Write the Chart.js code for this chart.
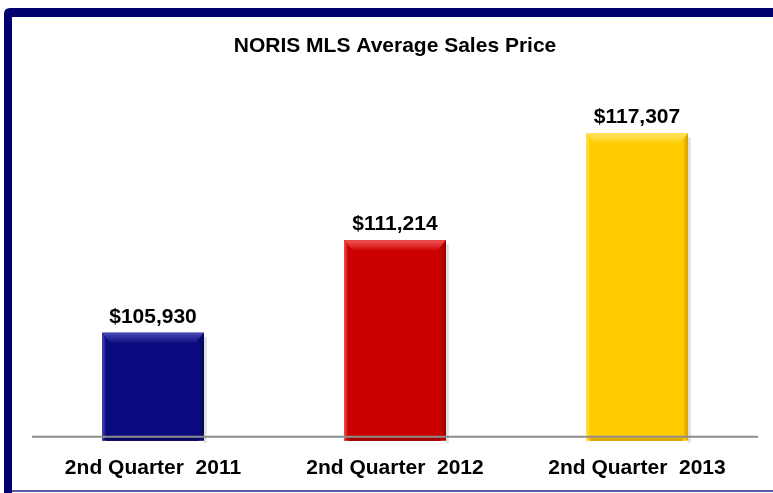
<!DOCTYPE html>
<html>
<head>
<meta charset="utf-8">
<script src="https://cdn.jsdelivr.net/npm/chart.js@4/dist/chart.umd.min.js"></script>
<style>
  html, body { margin: 0; padding: 0; background: #fff; }
  #wrap { width: 773px; height: 493px; position: relative; }
</style>
</head>
<body>
<div id="wrap"><canvas id="priceChart"></canvas></div>
<script>
// chart data
const quarters = ["2nd Quarter  2011", "2nd Quarter  2012", "2nd Quarter  2013"];
const avgPrices = [105930, 111214, 117307];
const barColors = ["#0a0a7e", "#cc0000", "#ffcc00"];
const barLights = ["#4a4ab4", "#f05858", "#ffe462"];
const barDarks = ["#05054e", "#8e0000", "#d49a00"];

const FONT = "'Liberation Sans', Arial, sans-serif";

function formatCurrency(v) {
    return "$" + v.toLocaleString("en-US");
}

// frame: navy border top + left, thin line at bottom
const framePlugin = {
    id: "frame",
    beforeDraw(chart) {
        const ctx = chart.ctx;
        const w = chart.width, h = chart.height;
        ctx.save();
        ctx.fillStyle = "#fff";
        ctx.fillRect(0, 0, w, h);
        ctx.fillStyle = "#00006e";
        ctx.beginPath();
        ctx.moveTo(4, h);
        ctx.lineTo(4, 14);
        ctx.quadraticCurveTo(4, 8, 10, 8);
        ctx.lineTo(w, 8);
        ctx.lineTo(w, 17);
        ctx.lineTo(12, 17);
        ctx.lineTo(12, h);
        ctx.closePath();
        ctx.fill();
        ctx.fillStyle = "#5a5aaa";
        ctx.fillRect(12, h - 3, w - 12, 2);
        ctx.restore();
    }
};

// bevel look on the bars + value labels above
const barDecor = {
    id: "barDecor",
    afterDatasetsDraw(chart) {
        const ctx = chart.ctx;
        const meta = chart.getDatasetMeta(0);
        ctx.save();
        meta.data.forEach((bar, i) => {
            const l = bar.x - bar.width / 2;
            const r = bar.x + bar.width / 2;
            const top = bar.y;
            const bottom = bar.base + 4;

            // soft shadow on the right
            ctx.fillStyle = "rgba(0,0,0,0.12)";
            ctx.fillRect(r, top + 4, 3, bottom - top - 2);

            // base fill (runs a little under the axis line)
            ctx.fillStyle = barColors[i];
            ctx.fillRect(l, top, r - l, bottom - top);

            // top bevel
            let g = ctx.createLinearGradient(0, top, 0, top + 11);
            g.addColorStop(0, barLights[i]);
            g.addColorStop(1, barColors[i]);
            ctx.fillStyle = g;
            ctx.beginPath();
            ctx.moveTo(l, top);
            ctx.lineTo(r, top);
            ctx.lineTo(r - 9, top + 11);
            ctx.lineTo(l + 9, top + 11);
            ctx.closePath();
            ctx.fill();

            // left bevel
            g = ctx.createLinearGradient(l, 0, l + 4, 0);
            g.addColorStop(0, barLights[i]);
            g.addColorStop(1, barColors[i]);
            ctx.fillStyle = g;
            ctx.beginPath();
            ctx.moveTo(l, top);
            ctx.lineTo(l + 4, top + 6);
            ctx.lineTo(l + 4, bottom - 4);
            ctx.lineTo(l, bottom);
            ctx.closePath();
            ctx.fill();

            // right bevel
            g = ctx.createLinearGradient(r - 5, 0, r, 0);
            g.addColorStop(0, barColors[i]);
            g.addColorStop(1, barDarks[i]);
            ctx.fillStyle = g;
            ctx.beginPath();
            ctx.moveTo(r, top);
            ctx.lineTo(r - 5, top + 7);
            ctx.lineTo(r - 5, bottom - 4);
            ctx.lineTo(r, bottom);
            ctx.closePath();
            ctx.fill();

            // bottom bevel
            g = ctx.createLinearGradient(0, bottom - 5, 0, bottom);
            g.addColorStop(0, barColors[i]);
            g.addColorStop(1, barDarks[i]);
            ctx.fillStyle = g;
            ctx.fillRect(l + 4, bottom - 5, r - l - 9, 5);

            // value label
            ctx.fillStyle = "#000";
            ctx.font = "bold 21px " + FONT;
            ctx.textAlign = "center";
            ctx.textBaseline = "alphabetic";
            ctx.fillText(formatCurrency(avgPrices[i]), bar.x, top - 10);
        });

        // axis line drawn over the bars
        const area = chart.chartArea;
        ctx.strokeStyle = "#8c8c8c";
        ctx.lineWidth = 2;
        ctx.beginPath();
        ctx.moveTo(area.left, area.bottom);
        ctx.lineTo(area.right, area.bottom);
        ctx.stroke();
        ctx.restore();
    }
};

new Chart(document.getElementById("priceChart").getContext("2d"), {
    type: "bar",
    data: {
        labels: quarters,
        datasets: [{
            label: "Average Sales Price",
            data: avgPrices,
            base: 100000,
            backgroundColor: barColors,
            borderWidth: 0,
            barPercentage: 0.6,
            categoryPercentage: 0.7
        }]
    },
    options: {
        responsive: true,
        maintainAspectRatio: false,
        animation: false,
        layout: { padding: { left: 32, right: 15, top: 0, bottom: -7 } },
        scales: {
            x: {
                grid: { display: false, drawTicks: false },
                border: { display: false },
                ticks: {
                    color: "#000",
                    padding: 19,
                    font: { family: FONT, size: 21, weight: "bold" }
                }
            },
            y: {
                display: false,
                min: 100000,
                max: 120000
            }
        },
        plugins: {
            legend: { display: false },
            tooltip: { enabled: false },
            title: {
                display: true,
                text: "NORIS MLS Average Sales Price",
                color: "#000",
                font: { family: FONT, size: 21, weight: "bold" },
                padding: { top: 34, bottom: 27 }
            }
        }
    },
    plugins: [framePlugin, barDecor]
});
</script>
</body>
</html>
